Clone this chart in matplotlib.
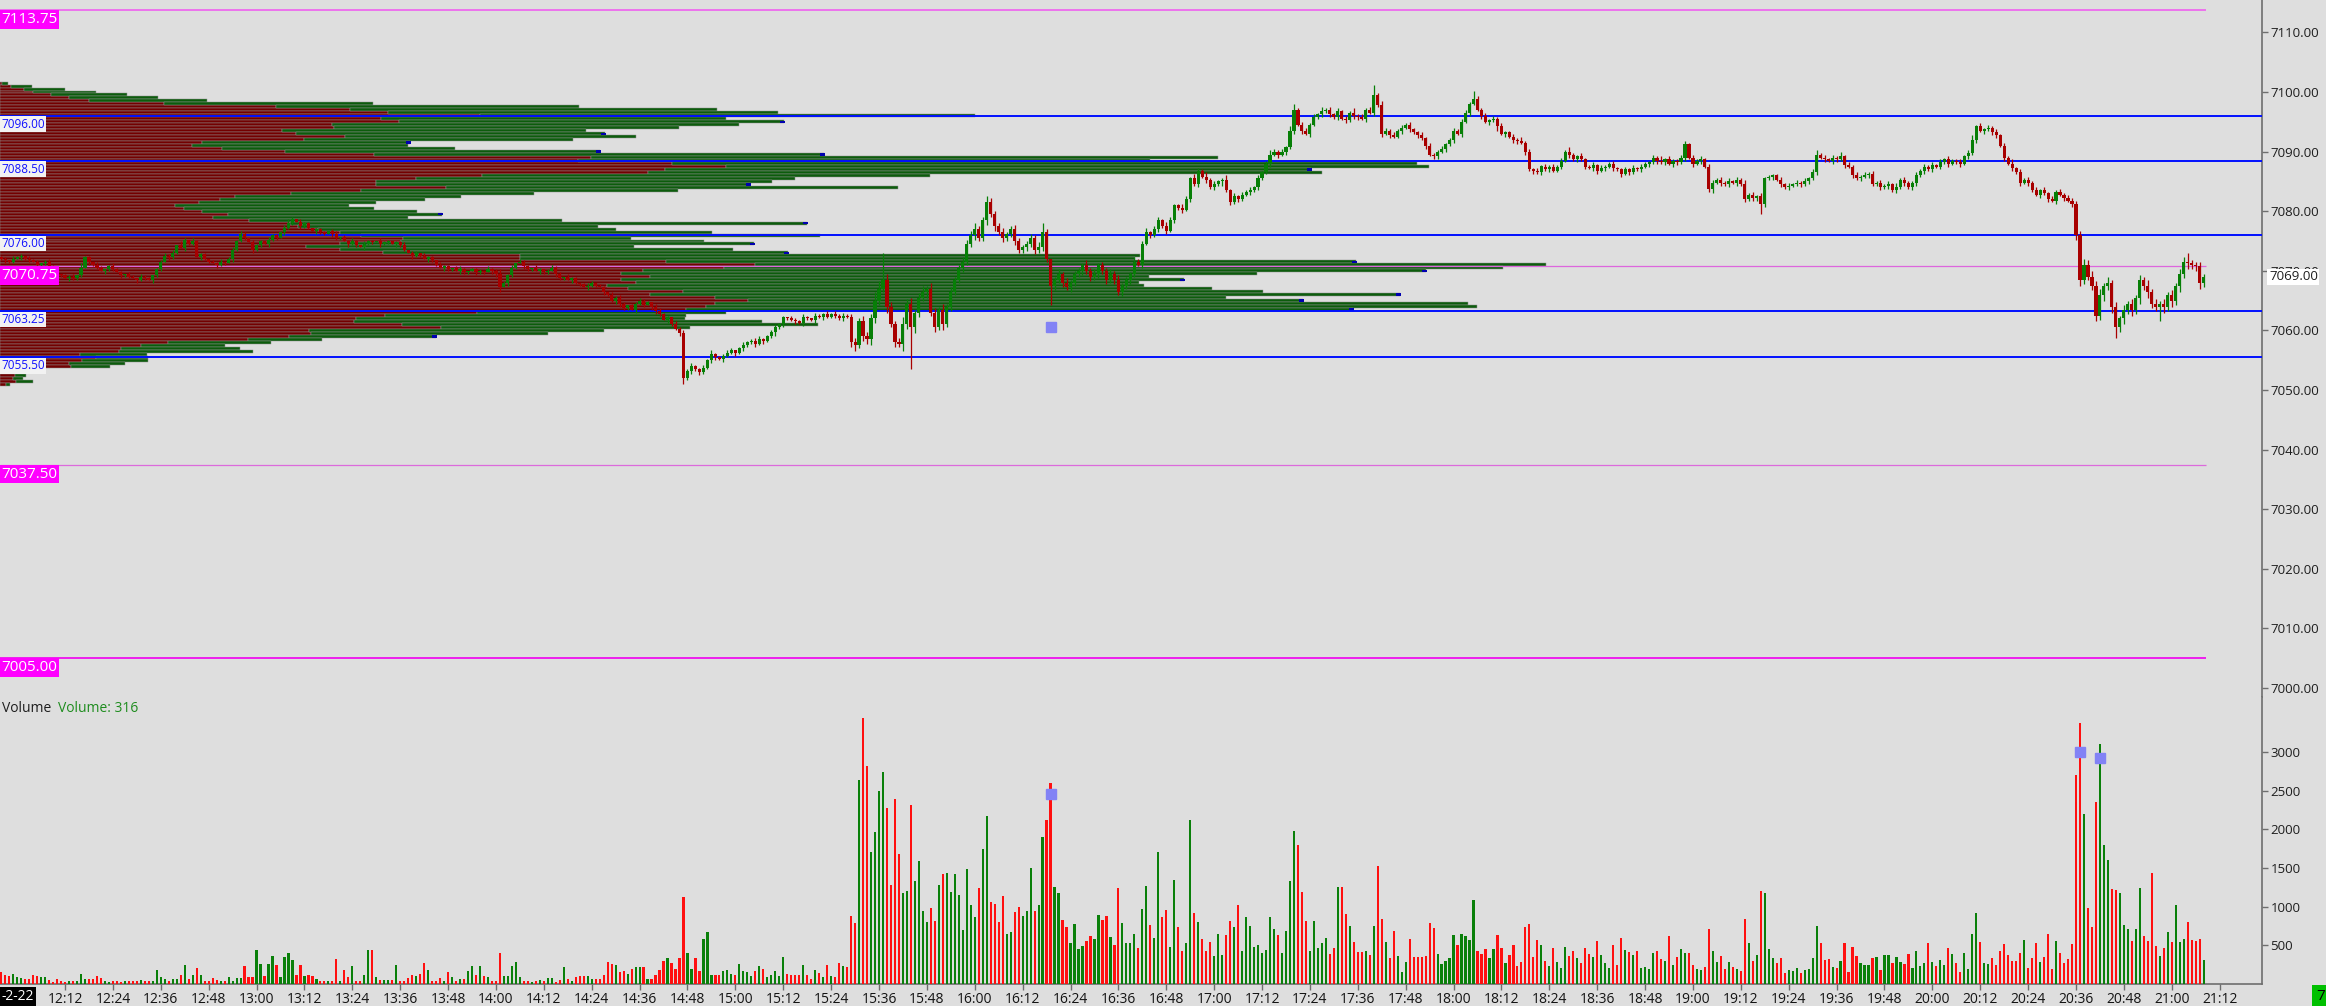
import matplotlib
matplotlib.use("Agg")
import matplotlib.pyplot as plt
import numpy as np

# ======================= DATA =======================
start_time = "11:56"          # first 1-minute bar
first_open = 7072.25

closes = [
    7072.0, 7071.75, 7071.5, 7072.0, 7072.25, 7072.5, 7072.0, 7071.75, 7071.5, 7071.0, 7071.25, 7071.5,
    7070.75, 7070.25, 7069.5, 7069.25, 7068.75, 7069.0, 7068.75, 7069.25, 7070.5, 7072.25, 7071.5, 7071.0,
    7070.5, 7070.0, 7070.25, 7070.75, 7070.25, 7069.75, 7069.25, 7069.5, 7069.0, 7068.75, 7068.5, 7069.0,
    7068.75, 7068.5, 7069.25, 7070.25, 7071.5, 7072.5, 7072.25, 7073.0, 7074.25, 7073.75, 7075.25, 7074.5,
    7075.0, 7072.25, 7072.75, 7072.0, 7071.5, 7071.25, 7071.0, 7071.5, 7071.25, 7072.0, 7073.5, 7075.0,
    7076.25, 7075.5, 7074.75, 7073.5, 7074.25, 7075.0, 7074.5, 7075.25, 7076.0, 7075.5, 7076.5, 7077.25,
    7078.0, 7078.75, 7078.25, 7077.5, 7078.0, 7077.25, 7076.75, 7077.0, 7076.5, 7076.25, 7076.75, 7076.25,
    7075.5, 7075.75, 7075.0, 7074.5, 7075.0, 7074.25, 7074.0, 7074.5, 7075.0, 7074.75, 7075.0, 7074.5,
    7074.75, 7075.0, 7074.5, 7074.75, 7074.25, 7073.5, 7073.0, 7072.5, 7073.0, 7072.5, 7072.0, 7072.25,
    7071.75, 7071.0, 7070.5, 7070.75, 7070.25, 7070.5, 7070.0, 7070.25, 7069.75, 7070.0, 7070.25, 7069.75,
    7070.0, 7069.75, 7070.25, 7070.0, 7069.5, 7067.25, 7068.0, 7069.25, 7070.5, 7071.25, 7071.5, 7070.75,
    7070.25, 7070.5, 7070.0, 7070.25, 7069.75, 7070.0, 7070.5, 7069.5, 7068.75, 7069.0, 7068.5, 7068.75,
    7068.0, 7067.75, 7067.25, 7067.5, 7068.0, 7067.5, 7067.25, 7066.5, 7066.0, 7065.0, 7065.5, 7064.5,
    7063.75, 7064.25, 7063.5, 7064.5, 7065.0, 7064.25, 7064.75, 7064.0, 7063.25, 7062.75, 7061.75, 7062.25,
    7061.0, 7060.25, 7059.5, 7052.0, 7053.25, 7054.0, 7053.5, 7053.0, 7053.75, 7055.0, 7056.0, 7055.5,
    7055.25, 7055.75, 7056.25, 7056.75, 7056.25, 7057.0, 7057.5, 7058.0, 7058.25, 7057.75, 7058.5, 7058.25,
    7059.0, 7059.75, 7060.5, 7061.0, 7062.25, 7062.0, 7061.75, 7061.5, 7061.25, 7062.25, 7062.0, 7061.75,
    7062.5, 7062.25, 7062.75, 7062.25, 7062.75, 7062.5, 7062.0, 7062.5, 7062.25,
    7058.0, 7057.5, 7061.5, 7059.0, 7058.5, 7062.0, 7065.0, 7067.0, 7068.5, 7064.0, 7061.0, 7058.0,
    7057.75, 7061.0, 7064.5, 7060.5, 7063.0, 7065.5, 7066.5, 7067.0, 7063.0, 7060.5, 7063.5, 7061.0,
    7064.0, 7066.5, 7068.5, 7070.5, 7071.5, 7074.5, 7076.0, 7077.0, 7075.5, 7078.5, 7081.5, 7079.5,
    7077.5, 7076.5, 7075.5, 7076.25, 7077.0, 7075.0, 7073.5, 7074.0, 7074.5, 7075.5, 7073.5, 7074.0,
    7076.5, 7072.0, 7067.5, 7068.5, 7069.5, 7068.0, 7067.25, 7068.0, 7069.5, 7070.0, 7071.0, 7070.0,
    7069.0, 7069.5, 7071.0, 7070.0, 7068.5, 7069.5, 7068.5, 7066.5, 7067.5, 7068.5, 7069.5,
    7071.5, 7071.0, 7074.5, 7076.5, 7076.0, 7077.0, 7078.5, 7077.5, 7076.75, 7078.5, 7081.0, 7080.5,
    7080.25, 7082.0, 7085.5, 7084.5, 7086.75, 7085.75, 7085.25, 7084.0, 7084.5, 7085.0, 7085.25, 7083.5,
    7081.5, 7082.5, 7082.0, 7082.75, 7083.25, 7083.5, 7084.0, 7085.5, 7086.5, 7088.0, 7089.5, 7090.0,
    7089.5, 7090.0, 7090.75, 7093.5, 7097.0, 7094.5, 7093.5, 7093.0, 7094.5, 7095.75, 7096.25, 7096.75,
    7097.0, 7096.25, 7095.75, 7096.75, 7095.5, 7095.25, 7096.5, 7096.0, 7095.75, 7095.5, 7097.0, 7096.5,
    7099.5, 7097.75, 7093.0, 7093.5, 7092.75, 7092.5, 7093.5, 7094.0, 7094.5, 7093.75, 7093.25, 7092.75,
    7092.25, 7091.0, 7089.5, 7089.25, 7090.0, 7090.5, 7091.25, 7092.0, 7093.5, 7093.0, 7095.0, 7096.5,
    7098.0, 7098.75, 7097.0, 7096.0, 7095.0, 7095.25, 7095.5, 7094.25, 7093.0, 7093.25, 7092.5, 7092.0,
    7091.75, 7091.5, 7090.0, 7087.0, 7086.75, 7086.5, 7087.5, 7087.0, 7087.5, 7086.75, 7087.5, 7088.5,
    7090.0, 7089.5, 7088.75, 7089.25, 7088.75, 7087.5, 7087.25, 7087.75, 7086.75, 7087.25, 7087.5, 7088.0,
    7087.25, 7087.0, 7086.25, 7087.0, 7086.5, 7087.25, 7087.0, 7087.5, 7088.0, 7088.25, 7089.0, 7088.5,
    7088.25, 7088.75, 7088.0, 7088.5, 7088.25, 7089.0, 7091.25, 7089.0, 7088.0, 7088.5, 7088.75, 7087.5,
    7083.75, 7084.75, 7085.25, 7084.75, 7084.5, 7085.0, 7084.75, 7085.25, 7084.5, 7082.0, 7082.75, 7082.25,
    7082.5, 7081.25, 7085.5, 7085.75, 7086.0, 7085.25, 7084.5, 7084.0, 7084.25, 7084.5, 7084.75, 7084.5,
    7085.0, 7085.5, 7086.5, 7089.5, 7089.0, 7088.75, 7088.5, 7089.0, 7088.75, 7089.25, 7087.75, 7087.5,
    7086.0, 7085.5, 7085.75, 7086.0, 7086.25, 7084.5, 7084.75, 7084.0, 7084.25, 7084.5, 7083.5, 7084.0,
    7085.25, 7084.75, 7084.0, 7084.75, 7086.0, 7086.75, 7087.5, 7087.0, 7087.75, 7087.5, 7088.25, 7088.75,
    7088.0, 7088.5, 7088.25, 7088.0, 7089.25, 7089.75, 7092.0, 7094.25, 7093.5, 7093.75, 7094.0, 7093.25,
    7092.75, 7091.0, 7089.0, 7088.0, 7087.25, 7086.5, 7084.75, 7085.25, 7084.75, 7083.5, 7082.75, 7083.5,
    7083.0, 7082.0, 7081.75, 7083.25, 7082.75, 7082.25, 7081.75, 7081.25, 7076.0, 7068.5, 7071.0, 7069.0,
    7067.5, 7062.5, 7066.0, 7067.5, 7068.0, 7064.0, 7060.5, 7062.0, 7063.5, 7064.5, 7063.5, 7065.5,
    7068.5, 7067.5, 7066.5, 7064.5, 7064.0, 7064.5, 7064.0, 7066.0, 7065.0, 7067.5, 7069.5, 7071.5,
    7071.25, 7071.0, 7070.75, 7068.0, 7069.0,
]

# wick lengths beyond the body, in ticks of 0.25 (base-36 digits)
upper_wick_ticks = (
    "1102110211" "0121101120" "3110210121" "1011021101" "1212031021" "1101120121"
    "2102110211" "1231021101" "1101201121" "0211021101" "1201102110" "2110121011"
    "1021131120" "2110210121" "1021101210" "1102121011" "2110221102" "1212112131"
    "1121012112" "2111211021" "1210211212" "1212324336" "5i43235342" "3424324232"
    "2333422432" "2312321232" "3620231322" "2132312232" "3221322312" "2132113213"
    "2131211312" "1212121232" "1213412212" "1312121213" "1212713212" "1212112121"
    "1211212216" "2121212112" "1312121212" "1213112112" "1211211212" "1211213121"
    "1221212122" "1212121312" "1211112121" "2121231212" "1312121212" "1212131211"
    "2121212121" "1212312121" "2121312121" "2121212122" "2343434242" "3232323242"
    "3232323362" "232"
)
lower_wick_ticks = (
    "1211021102" "1102110211" "1021102110" "2110211021" "1021102110" "2110211021"
    "1102110211" "0211021102" "1102110211" "0211021102" "1102110211" "0211021102"
    "1102230211" "0211021102" "1102110211" "0211221102" "1102210211" "2412121122"
    "1211212112" "1211312112" "1211212112" "1213423343" "32423253s4" "3242324232"
    "2322322323" "2322322323" "232d323232" "2323232323" "2323212121" "2121212121"
    "2121213121" "2112121121" "2121212121" "1212121212" "2121212121" "1212121212"
    "2121212121" "1212131212" "2121212121" "1212121212" "2121212121" "1212121212"
    "2121212123" "1212121212" "2721212121" "1212121212" "2121212121" "1212121212"
    "2121212121" "1212121212" "2121212121" "1212121212" "3432343434" "7343434343"
    "3a43434343" "343"
)

volumes = [
    150, 115, 100, 135, 90, 80, 65, 65, 115, 100, 90, 95, 55, 20, 65, 35,
    20, 45, 45, 35, 130, 65, 65, 65, 100, 80, 45, 20, 35, 45, 20, 35,
    45, 35, 45, 55, 35, 45, 45, 175, 90, 65, 45, 65, 65, 115, 245, 65,
    115, 205, 115, 45, 45, 80, 55, 45, 45, 90, 45, 80, 80, 235, 90, 90,
    440, 260, 100, 260, 365, 250, 90, 350, 400, 305, 110, 250, 100, 120, 100, 65,
    45, 45, 45, 45, 325, 35, 175, 85, 230, 45, 45, 110, 445, 445, 90, 55,
    55, 55, 55, 250, 45, 45, 80, 110, 100, 135, 270, 185, 45, 45, 80, 45,
    155, 85, 45, 65, 65, 165, 230, 110, 230, 100, 85, 45, 45, 400, 100, 100,
    230, 280, 85, 45, 45, 20, 45, 55, 45, 80, 80, 20, 55, 225, 65, 45,
    85, 100, 100, 100, 65, 65, 65, 110, 290, 260, 250, 150, 165, 130, 195, 225,
    225, 225, 65, 65, 110, 185, 295, 335, 270, 195, 335, 1125, 400, 195, 335, 165,
    575, 675, 120, 120, 120, 165, 185, 135, 120, 260, 165, 150, 100, 170, 230, 195,
    85, 110, 165, 100, 345, 130, 115, 120, 120, 245, 110, 65, 185, 140, 85, 245,
    100, 85, 270, 235, 215,
    875, 790, 2630, 3440, 2815, 1700, 1965, 2495, 2745, 2270, 1285, 2390, 1680, 1175, 1205, 2315,
    1335, 1595, 940, 800, 980, 815, 1285, 1420, 1435, 1190, 1420, 1155, 700, 1490, 1015, 870,
    1240, 1745, 2175, 1060, 1035, 800, 1140, 640, 675, 935, 995, 875, 945, 1500, 945, 1015,
    1900, 2125, 2600, 1255, 1180, 830, 735, 535, 775, 455, 485, 560, 625, 585, 895, 830,
    875, 610, 510, 1235, 790, 525, 525,
    650, 465, 970, 1270, 765, 590, 1700, 860, 950, 480, 1350, 735, 430, 535, 2120, 920,
    805, 585, 430, 545, 365, 650, 370, 635, 820, 735, 1020, 430, 860, 750, 480, 500,
    400, 445, 860, 715, 635, 400, 690, 1335, 1980, 1790, 1190, 820, 430, 820, 470, 525,
    600, 390, 470, 1255, 1255, 905, 750, 545, 410, 410, 420, 380, 750, 1525, 845, 545,
    330, 690, 365, 160, 280, 585, 350, 350, 350, 365, 790, 725, 390, 260, 295, 335,
    635, 500, 645, 620, 570, 1085, 430, 390, 455, 335, 455, 635, 465, 275, 380, 500,
    235, 280, 730, 775, 355, 570, 510, 300, 235, 470, 280, 205, 480, 365, 420, 330,
    275, 470, 390, 350, 560, 370, 275, 210, 510, 245, 595, 440, 415, 380, 420, 210,
    225, 195, 405, 430, 325, 300, 625, 250, 345, 455, 405, 405, 250, 195, 185, 225,
    705, 430, 290, 360, 190, 285, 225, 195, 165, 845, 535, 295, 375, 1205, 1175, 455,
    330, 265, 330, 140, 185, 165, 205, 140, 185, 195, 340, 750, 530, 305, 320, 220,
    205, 300, 530, 155, 475, 365, 265, 250, 250, 330, 345, 185, 375, 380, 270, 345,
    285, 260, 390, 205, 430, 235, 265, 535, 290, 230, 315, 250, 470, 390, 275, 155,
    400, 195, 640, 920, 545, 275, 255, 330, 250, 420, 520, 375, 300, 300, 400, 570,
    205, 340, 535, 280, 345, 645, 200, 555, 400, 270, 325, 520, 2700, 3375, 2190, 985,
    735, 2355, 3105, 1800, 1600, 1230, 1215, 1175, 765, 715, 550, 715, 1240, 625, 560, 1440,
    495, 365, 470, 670, 545, 1025, 545, 585, 805, 570, 555, 575, 316,
]

# volume profile: rows every 0.5 pt from the top row downwards
prof_top = 7101.5
prof_step = 0.5
prof_sell = [
    6, 28, 60, 83, 128, 172, 223, 410, 690, 875, 970, 1201, 952, 997, 831, 834,
    704, 740, 863, 759, 506, 479, 556, 713, 936, 1477, 1445, 1680, 1815, 1662, 1620, 1205,
    1040, 939, 939, 1114, 903, 728, 587, 551, 497, 437, 461, 506, 569, 533, 623, 726,
    744, 795, 849, 903, 1008, 1002, 849, 764, 849, 957, 1300, 1300, 1665, 1887, 1811, 1607,
    1553, 1625, 1553, 1589, 1517, 1571, 1707, 1625, 1788, 1869, 1788, 1766, 1716, 1192, 963, 890,
    885, 1006, 1102, 773, 777, 722, 619, 419, 352, 303, 298, 199, 240, 205, 172, 178,
    0, 0, 38, 32, 40, 15,
]
prof_total = [
    19, 80, 163, 240, 318, 395, 518, 933, 1448, 1793, 1945, 2438, 1815, 1960, 1848, 1698,
    1466, 1513, 1589, 1432, 1024, 1020, 1138, 1501, 2059, 3045, 2875, 3543, 3573, 3278, 3305, 2326,
    1987, 1929, 1875, 2245, 1694, 1336, 1152, 1062, 939, 872, 936, 1042, 1105, 1020, 1405, 2017,
    1495, 1540, 1779, 2050, 1577, 1761, 1884, 1584, 1833, 1969, 2850, 2838, 3390, 3865, 3758, 3565,
    3143, 2873, 2960, 2848, 2860, 3030, 3158, 3500, 3065, 3258, 3670, 3693, 3383, 1815, 1716, 1712,
    1905, 2046, 1725, 1510, 1369, 1089, 804, 677, 563, 601, 632, 367, 370, 370, 312, 274,
    0, 0, 64, 57, 83, 25,
]
prof_marked_rows = [7095.0, 7093.0, 7091.5, 7090.0, 7089.5, 7087.0, 7084.5, 7079.5, 7078.0,
                    7074.5, 7073.0, 7071.5, 7070.0, 7068.5, 7066.0, 7065.0, 7063.5, 7059.0]

blue_levels = [7096.00, 7088.50, 7076.00, 7063.25, 7055.50]
magenta_levels = [7113.75, 7037.50, 7005.00]
poc_level = 7070.75
price_marker = (263, 7060.5)
volume_markers = [(263, 2460), (521, 3000), (526, 2920)]
last_price = 7069.00
last_volume = 316

price_ticks = [7000, 7010, 7020, 7030, 7040, 7050, 7060, 7070, 7080, 7090, 7100, 7110]
volume_ticks = [500, 1000, 1500, 2000, 2500, 3000]
time_labels = ["12:12", "12:24", "12:36", "12:48", "13:00", "13:12", "13:24", "13:36", "13:48",
               "14:00", "14:12", "14:24", "14:36", "14:48", "15:00", "15:12", "15:24", "15:36",
               "15:48", "16:00", "16:12", "16:24", "16:36", "16:48", "17:00", "17:12", "17:24",
               "17:36", "17:48", "18:00", "18:12", "18:24", "18:36", "18:48", "19:00", "19:12",
               "19:24", "19:36", "19:48", "20:00", "20:12", "20:24", "20:36", "20:48", "21:00",
               "21:12"]
date_label = "-2-22"

# ======================= CHECKS =======================
up_t = np.array([int(ch, 36) for ch in upper_wick_ticks]) * 0.25
lo_t = np.array([int(ch, 36) for ch in lower_wick_ticks]) * 0.25
N = len(closes)
if not (len(volumes) == N == len(up_t) == len(lo_t)):
    raise ValueError(f"lengths: closes {N}, volumes {len(volumes)}, up {len(up_t)}, lo {len(lo_t)}")
if len(prof_sell) != len(prof_total):
    raise ValueError(f"profile lengths {len(prof_sell)} {len(prof_total)}")

# ======================= STYLE / LAYOUT =======================
plt.rcParams['font.family'] = ['Open Sans', 'DejaVu Sans']
BG = '#DEDEDE'
UP_C, DN_C = '#077F07', '#A80000'
VUP_C, VDN_C = '#0A800A', '#FF1010'
PR_RED, PR_GRN = '#730000', '#0C5C0C'
AXIS_C = '#6E6E6E'
NARROW = ['Liberation Sans Narrow', 'Open Sans', 'DejaVu Sans']

W, H = 2326, 1006
AX_R = 2262          # right axis pixel
PRICE_B = 697        # bottom of price pane (px from top)
VOL_B = 984          # bottom of volume pane
PX_PER_BAR = 3.99
PX_PER_PT = 5.96
Y7000 = 688

fig = plt.figure(figsize=(W / 100, H / 100), dpi=100)
fig.patch.set_facecolor(BG)
axp = fig.add_axes([0, 1 - PRICE_B / H, AX_R / W, PRICE_B / H])
axv = fig.add_axes([0, 1 - VOL_B / H, AX_R / W, (VOL_B - PRICE_B) / H], sharex=axp)
for a in (axp, axv):
    a.set_facecolor(BG)
    for s in ('top', 'left', 'bottom', 'right'):
        a.spines[s].set_visible(False)
    a.spines['right'].set_visible(True)
    a.spines['right'].set_color(AXIS_C)
    a.spines['right'].set_linewidth(1.2)
axv.spines['bottom'].set_visible(True)
axv.spines['bottom'].set_color(AXIS_C)
axv.spines['bottom'].set_linewidth(1.2)

x0 = -1.2 / PX_PER_BAR
x1 = (AX_R - 1.2) / PX_PER_BAR
axp.set_xlim(x0, x1)
axp.set_ylim(7000 - (PRICE_B - Y7000) / PX_PER_PT, 7000 + Y7000 / PX_PER_PT)
axv.set_ylim(0, (VOL_B - PRICE_B) / 38.7 * 500)

x = np.arange(N)
c = np.array(closes)
o = np.concatenate([[first_open], c[:-1]])
is_up = c >= o
hi = np.maximum(o, c) + up_t
lo = np.minimum(o, c) - lo_t

# ---------- volume profile ----------
rows = prof_top - prof_step * np.arange(len(prof_sell))
sell = np.array(prof_sell, float)
tot = np.array(prof_total, float)
to_data = 0.4 / PX_PER_BAR
axp.barh(rows, sell * to_data, left=x0, height=prof_step, color=PR_RED,
         edgecolor='#8E8E8E', linewidth=0.35, zorder=2)
axp.barh(rows, (tot - sell) * to_data, left=x0 + sell * to_data, height=prof_step,
         color=PR_GRN, edgecolor='#8E8E8E', linewidth=0.35, zorder=2)
for r in prof_marked_rows:
    k = int(round((prof_top - r) / prof_step))
    axp.barh(r, 5 / PX_PER_BAR, left=x0 + tot[k] * to_data - 4 / PX_PER_BAR,
             height=prof_step * 0.8, color='#0000B0', linewidth=0, zorder=2.5)

# ---------- level lines ----------
x_end = N - 0.4
for lv in blue_levels:
    axp.axhline(lv, color='#0010FF', lw=1.4, zorder=3)
mag_style = {7113.75: ('#EE6AEE', 1.3), 7037.50: ('#DC6ADC', 0.9), 7005.00: ('#EE10EE', 1.3)}
for lv in magenta_levels:
    col, lw = mag_style[lv]
    axp.hlines(lv, x0, x_end, color=col, lw=lw, zorder=3)
axp.hlines(poc_level, x0, x_end, color='#DD66DD', lw=0.9, zorder=3)

# ---------- candles ----------
ccol = np.where(is_up, UP_C, DN_C)
axp.vlines(x, lo, hi, colors=ccol, lw=0.9, zorder=4)
axp.bar(x, np.maximum(np.abs(c - o), 0.15), bottom=np.minimum(o, c), width=0.78,
        color=ccol, linewidth=0, zorder=5)
axp.plot([price_marker[0]], [price_marker[1]], marker='s', ms=6.5, color='#8282F5',
         mec='#8282F5', zorder=6, ls='none')

# ---------- volume ----------
vcol = np.where(is_up, VUP_C, VDN_C)
axv.bar(x, volumes, width=0.55, color=vcol, linewidth=0, zorder=3)
for vx, vy in volume_markers:
    axv.plot([vx], [vy], marker='s', ms=6.5, color='#8282F5', mec='#8282F5', zorder=6, ls='none')

# ---------- axes ticks ----------
axp.yaxis.tick_right()
axp.set_yticks(price_ticks)
axp.set_yticklabels([f"{v:.2f}" for v in price_ticks])
axv.yaxis.tick_right()
axv.set_yticks(volume_ticks)
axv.set_yticklabels([str(v) for v in volume_ticks])
for a in (axp, axv):
    a.tick_params(axis='y', direction='out', length=4, width=1, color=AXIS_C,
                  pad=2, labelsize=9.5, labelcolor='#1E1E1E')
h0, m0 = map(int, start_time.split(':'))
tpos = [(int(t[:2]) * 60 + int(t[3:]) - (h0 * 60 + m0)) for t in time_labels]
axv.set_xticks(tpos)
axv.set_xticklabels(time_labels)
axv.tick_params(axis='x', direction='out', length=4, width=1, color=AXIS_C,
                pad=2, labelsize=10, labelcolor='#141414')
axp.tick_params(axis='x', bottom=False, labelbottom=False)

# ---------- level labels at left ----------
def left_label(level, txt, fc, tc, size, family):
    axp.annotate(txt, xy=(0, level), xycoords=('axes fraction', 'data'),
                 xytext=(1, -2), textcoords='offset pixels', ha='left', va='top',
                 fontsize=size, color=tc, family=family, zorder=8,
                 bbox=dict(boxstyle='square,pad=0.12', fc=fc, ec='none'))

for lv in magenta_levels:
    left_label(lv, f"{lv:.2f}", '#FF00FF', 'white', 11, NARROW)
left_label(poc_level, f"{poc_level:.2f}", '#FF00FF', 'white', 11, NARROW)
for lv in blue_levels:
    left_label(lv, f"{lv:.2f}", '#F2F2F2', '#1010FF', 8.5, NARROW)

# ---------- right side current price ----------
axp.annotate(f"{last_price:.2f}", xy=(1, last_price), xycoords=('axes fraction', 'data'),
             xytext=(7, 0), textcoords='offset pixels', ha='left', va='center',
             fontsize=9.5, color='#1E1E1E', zorder=9, annotation_clip=False,
             bbox=dict(boxstyle='square,pad=0.12', fc='white', ec='none'))

# ---------- misc texts ----------
fig.text(2 / W, 1 - 709 / H, "Volume", fontsize=10, color='#1E1E1E', ha='left', va='center')
fig.text(58 / W, 1 - 709 / H, f"Volume: {last_volume}", fontsize=10, color='#1E8C1E',
         ha='left', va='center')
fig.text(1 / W, 1 - 997 / H, date_label, fontsize=10, color='white', ha='left', va='center',
         bbox=dict(boxstyle='square,pad=0.2', fc='black', ec='none'))
fig.text(2316 / W, 1 - 996 / H, "7", fontsize=11, color='black', ha='left', va='center',
         bbox=dict(boxstyle='square,pad=0.25', fc='#00C000', ec='none'))

fig.savefig("out.png", dpi=100, facecolor=BG)
